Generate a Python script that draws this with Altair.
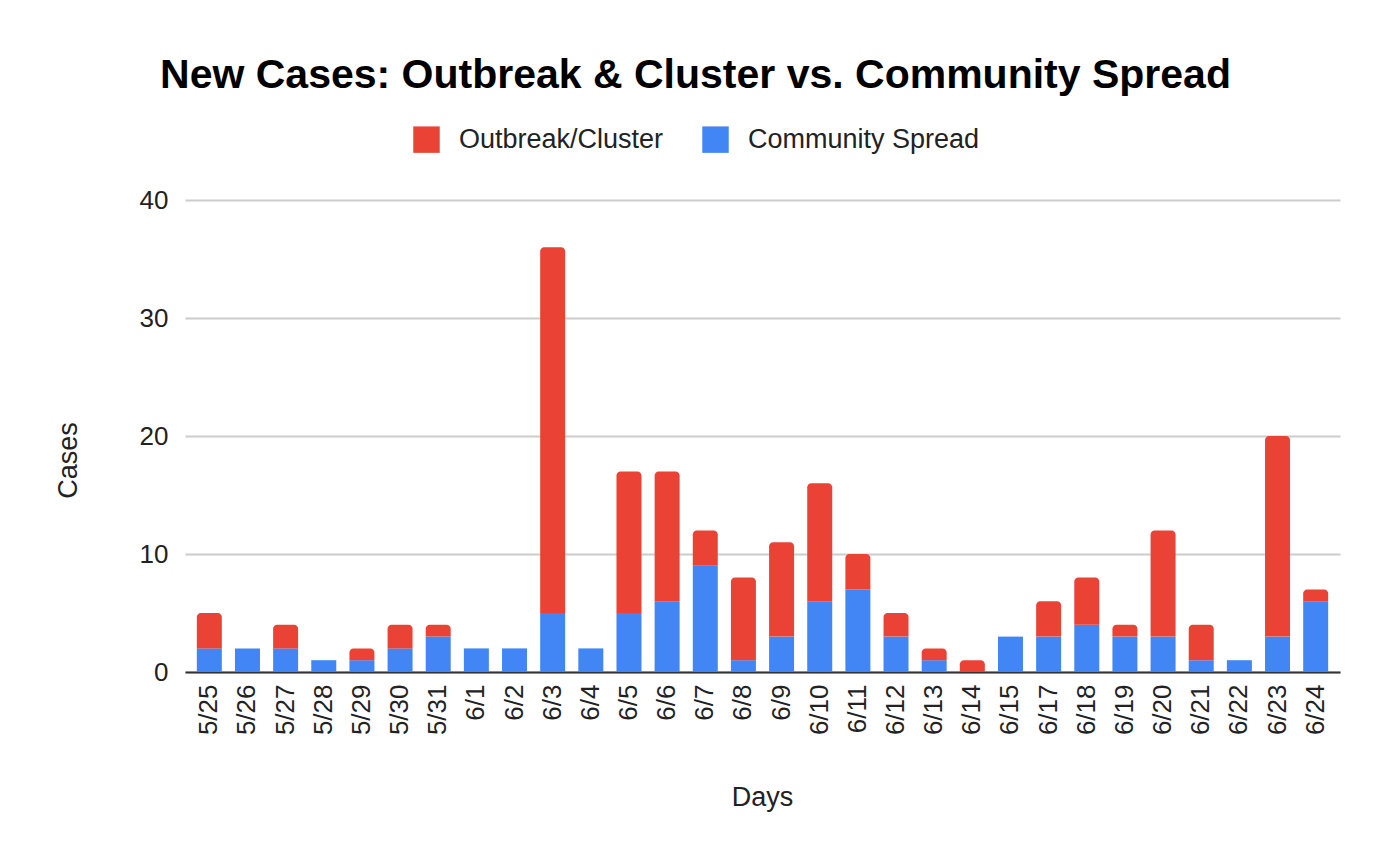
import altair as alt
import pandas as pd

days = ["5/25", "5/26", "5/27", "5/28", "5/29", "5/30", "5/31", "6/1", "6/2", "6/3",
        "6/4", "6/5", "6/6", "6/7", "6/8", "6/9", "6/10", "6/11", "6/12", "6/13",
        "6/14", "6/15", "6/17", "6/18", "6/19", "6/20", "6/21", "6/22", "6/23", "6/24"]
community = [2, 2, 2, 1, 1, 2, 3, 2, 2, 5,
             2, 5, 6, 9, 1, 3, 6, 7, 3, 1,
             0, 3, 3, 4, 3, 3, 1, 1, 3, 6]
outbreak = [3, 0, 2, 0, 1, 2, 1, 0, 0, 31,
            0, 12, 11, 3, 7, 8, 10, 3, 2, 1,
            1, 0, 3, 4, 1, 9, 3, 0, 17, 1]
series = ["Outbreak/Cluster", "Community Spread"]
colors = ["#EA4335", "#4285F4"]

rows = []
for d, c, o in zip(days, community, outbreak):
    if c > 0:
        rows.append({"day": d, "series": series[1], "start": 0, "end": c, "cases": c})
    if o > 0:
        rows.append({"day": d, "series": series[0], "start": c, "end": c + o, "cases": o})
df = pd.DataFrame(rows)

FONT = "Arial"

x_enc = alt.X("day:N", sort=days,
              scale=alt.Scale(paddingInner=0.345, paddingOuter=0.31),
              axis=alt.Axis(title="Days", labelAngle=-90, labelAlign="right",
                            labelBaseline="middle", labelPadding=12, ticks=False,
                            domain=True, domainColor="#333333", domainWidth=2,
                            labelFontSize=26, titleFontSize=27, titleFontWeight="normal",
                            titleX=577, titleY=125, titleBaseline="middle",
                            titleAnchor="middle", labelColor="#222222", titleColor="#222222"))
y_enc = alt.Y("end:Q", scale=alt.Scale(domain=[0, 40]),
              axis=alt.Axis(title="Cases", values=[0, 10, 20, 30, 40], ticks=False,
                            domain=False, labelPadding=17, labelFontSize=26,
                            titleFontSize=27, titleFontWeight="normal",
                            gridColor="#cccccc", gridWidth=2,
                            titleX=-117, titleY=260, titleAngle=-90,
                            titleAlign="center", titleBaseline="middle",
                            labelColor="#222222", titleColor="#222222"))
color_enc = alt.Color("series:N", scale=alt.Scale(domain=series, range=colors),
                      legend=alt.Legend(title=None, orient="none", direction="horizontal",
                                        legendX=228, legendY=-74,
                                        symbolType="square", symbolSize=700,
                                        symbolStrokeWidth=0, labelFontSize=27,
                                        labelLimit=0, labelOffset=19, columnPadding=38,
                                        labelColor="#222222"))

blue = alt.Chart(df).transform_filter(alt.datum.series == series[1]).mark_bar().encode(
    x=x_enc, y=y_enc, y2="start:Q", color=color_enc,
    tooltip=["day:N", "series:N", "cases:Q"])
red = alt.Chart(df).transform_filter(alt.datum.series == series[0]).mark_bar(
    cornerRadiusTopLeft=4, cornerRadiusTopRight=4).encode(
    x=x_enc, y=y_enc, y2="start:Q", color=color_enc,
    tooltip=["day:N", "series:N", "cases:Q"])

chart = alt.layer(blue, red).properties(
    width=1155, height=472,
    title=alt.Title("New Cases: Outbreak & Cluster vs. Community Spread",
                    fontSize=41, fontWeight="bold", font=FONT, color="#000000",
                    anchor="middle", frame="group", dx=-67, offset=29),
    autosize=alt.AutoSizeParams(type="none"),
    padding={"left": 177, "top": 192, "right": 25, "bottom": 170},
).configure(font=FONT, background="white").configure_view(stroke=None)

chart.save("out.html", embed_options={"renderer": "svg", "actions": False})
